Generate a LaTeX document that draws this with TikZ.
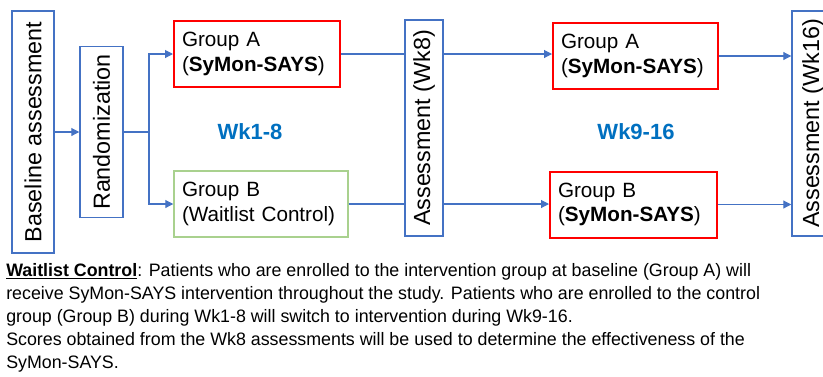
\documentclass[tikz,border=0pt]{standalone}
\usepackage{fontspec}
\setmainfont{Liberation Sans}
\newfontfamily\narrowfont[FakeStretch=0.99]{Liberation Sans}
\usetikzlibrary{arrows.meta}
\definecolor{boxblue}{RGB}{68,114,196}
\definecolor{boxred}{RGB}{255,0,0}
\definecolor{boxgreen}{RGB}{169,209,142}
\definecolor{wkblue}{RGB}{0,112,192}

\begin{document}
\begin{tikzpicture}[
    x=0.75pt, y=-0.75pt,
    every node/.style={font=\fontsize{15.5}{18.5}\selectfont},
    assess/.style={
        rectangle,
        draw=boxblue,
        line width=1.1pt,
        rotate=90,
        inner sep=0pt,
        font=\fontsize{17.5}{20}\selectfont
    },
    group/.style={
        rectangle,
        draw,
        line width=1.5pt,
        align=left,
        inner xsep=6pt,
        minimum height=49.5pt
    },
    period/.style={text=wkblue, font=\bfseries\fontsize{16.5}{19}\selectfont},
    link/.style={draw=boxblue, line width=0.8pt},
    arrow/.style={link, -{Triangle[length=6pt,width=6pt]}}
]
\useasboundingbox (0,0) rectangle (823,376);

\node[assess, minimum width=181.5pt, minimum height=31.5pt] (base) at (33,132)
{Baseline assessment};

\node[assess, minimum width=128.25pt, minimum height=32.25pt] (rand) at (101.5,132)
{Randomization};

\node[group, draw=boxred, text width=112.5pt] (grpA1) at (257,54)
{Group A\\(\textbf{SyMon-SAYS})};

\node[group, draw=boxgreen, line width=1.1pt, text width=118.5pt] (grpB1) at (261,204)
{Group B\\(Waitlist Control)};

\node[period] (wk18) at (250,132) {Wk1-8};

\node[assess, minimum width=162pt, minimum height=28.5pt] (wk8) at (424,128)
{Assessment (Wk8)};

\node[group, draw=boxred, text width=111.75pt] (grpA2) at (635.5,56)
{Group A\\(\textbf{SyMon-SAYS})};

\node[group, draw=boxred, text width=113.25pt] (grpB2) at (633.5,204.5)
{Group B\\(\textbf{SyMon-SAYS})};

\node[period] (wk916) at (636,132) {Wk9-16};

\node[assess, minimum width=168.75pt, minimum height=31.5pt] (wk16) at (813,123.5)
{Assessment (Wk16)};

\node[anchor=north west, align=left, inner sep=0pt,
      font=\narrowfont\fontsize{13.5}{17.25}\selectfont] (note) at (6,263)
{\underline{\textbf{Waitlist Control}}: Patients who are enrolled to the intervention group at baseline (Group A) will\\
receive SyMon-SAYS intervention throughout the study. Patients who are enrolled to the control\\
group (Group B) during Wk1-8 will switch to intervention during Wk9-16.\\
Scores obtained from the Wk8 assessments will be used to determine the effectiveness of the\\
SyMon-SAYS.};

\coordinate (split) at (149,132);

\draw[arrow] (base.south) -- (rand.north);
\draw[link] (rand.south) -- (split);
\draw[arrow] (split) |- (grpA1.west);
\draw[arrow] (split) |- (grpB1.west);

\draw[link] (grpA1.east) -- (grpA1.east -| wk8.north);
\draw[link] (grpB1.east) -- (grpB1.east -| wk8.north);

\draw[arrow] (grpA1.east -| wk8.south) -- (grpA1.east -| grpA2.west);
\draw[arrow] (grpB1.east -| wk8.south) -- (grpB1.east -| grpB2.west);

\draw[arrow] (grpA2.east) -- (grpA2.east -| wk16.north);
\draw[arrow] (grpB2.east) -- (grpB2.east -| wk16.north);

\end{tikzpicture}
\end{document}
